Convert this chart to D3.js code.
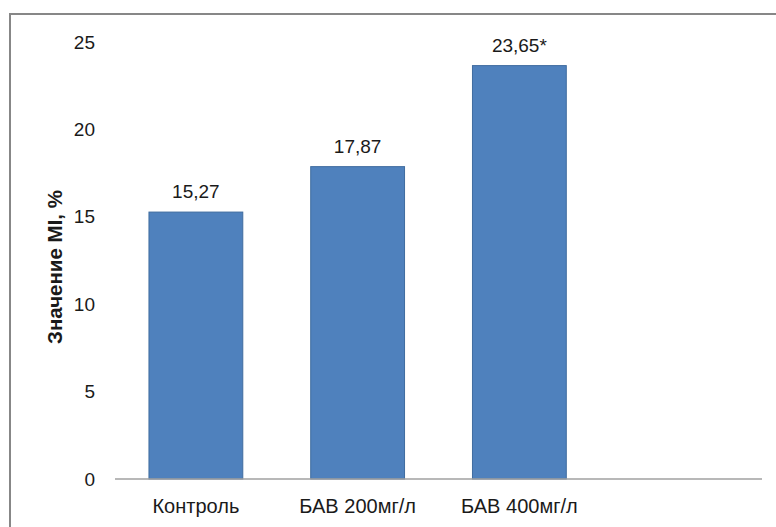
<!DOCTYPE html>
<html>
<head>
<meta charset="utf-8">
<script src="https://cdn.jsdelivr.net/npm/d3@7"></script>
<style>
  html, body { margin: 0; padding: 0; background: #fff; }
  svg { display: block; }
  text { font-family: "Liberation Sans", Arial, sans-serif; fill: #1a1a1a; }
</style>
</head>
<body>
<svg id="chart" width="776" height="527"></svg>
<script>
// Mitotic index by group
const categories = ["Контроль", "БАВ 200мг/л", "БАВ 400мг/л"];
const values = [15.27, 17.87, 23.65];
const valueLabels = ["15,27", "17,87", "23,65*"];
const yTicks = [0, 5, 10, 15, 20, 25];
const yTitle = "Значение MI, %";

const svg = d3.select("#chart");

// outer frame (open to the right and bottom, cut by the canvas)
svg.append("rect")
  .attr("x", 10).attr("y", 14)
  .attr("width", 800).attr("height", 600)
  .attr("fill", "#fff")
  .attr("stroke", "#878787")
  .attr("stroke-width", 2);

const plotLeft = 115, plotRight = 762;
const step = (plotRight - plotLeft) / 4;

const x = d3.scaleBand()
  .domain(categories)
  .range([plotLeft, plotLeft + 3 * step])
  .paddingInner(0.42)
  .paddingOuter(0.21);

const y = d3.scaleLinear().domain([0, 25]).range([479, 42]);

// bars
svg.append("g").selectAll("rect")
  .data(values)
  .join("rect")
  .attr("x", (d, i) => x(categories[i]))
  .attr("y", d => y(d))
  .attr("width", x.bandwidth())
  .attr("height", d => y(0) - y(d))
  .attr("fill", "#4F81BD")
  .attr("stroke", "#3F6C9F")
  .attr("stroke-width", 1);

// value labels
svg.append("g").selectAll("text")
  .data(values)
  .join("text")
  .attr("x", (d, i) => x(categories[i]) + x.bandwidth() / 2)
  .attr("y", d => y(d) - 14)
  .attr("text-anchor", "middle")
  .attr("font-size", 19)
  .text((d, i) => valueLabels[i]);

// category axis baseline
svg.append("line")
  .attr("x1", plotLeft).attr("x2", plotRight)
  .attr("y1", y(0)).attr("y2", y(0))
  .attr("stroke", "#A0A0A0")
  .attr("stroke-width", 1.5);

// category labels
svg.append("g").selectAll("text")
  .data(categories)
  .join("text")
  .attr("x", d => x(d) + x.bandwidth() / 2)
  .attr("y", 513)
  .attr("text-anchor", "middle")
  .attr("font-size", 20)
  .text(d => d);

// y axis tick labels (no axis line)
const yAxis = d3.axisLeft(y).tickValues(yTicks).tickSize(0).tickPadding(0);
const gy = svg.append("g").attr("transform", "translate(95,0)").call(yAxis);
gy.select(".domain").remove();
gy.selectAll("text")
  .attr("font-size", 19)
  .attr("font-family", "'Liberation Sans', Arial, sans-serif")
  .attr("fill", "#1a1a1a");

// y axis title
svg.append("text")
  .attr("transform", "translate(62,267) rotate(-90)")
  .attr("text-anchor", "middle")
  .attr("font-size", 20.5)
  .attr("font-weight", "bold")
  .text(yTitle);
</script>
</body>
</html>
